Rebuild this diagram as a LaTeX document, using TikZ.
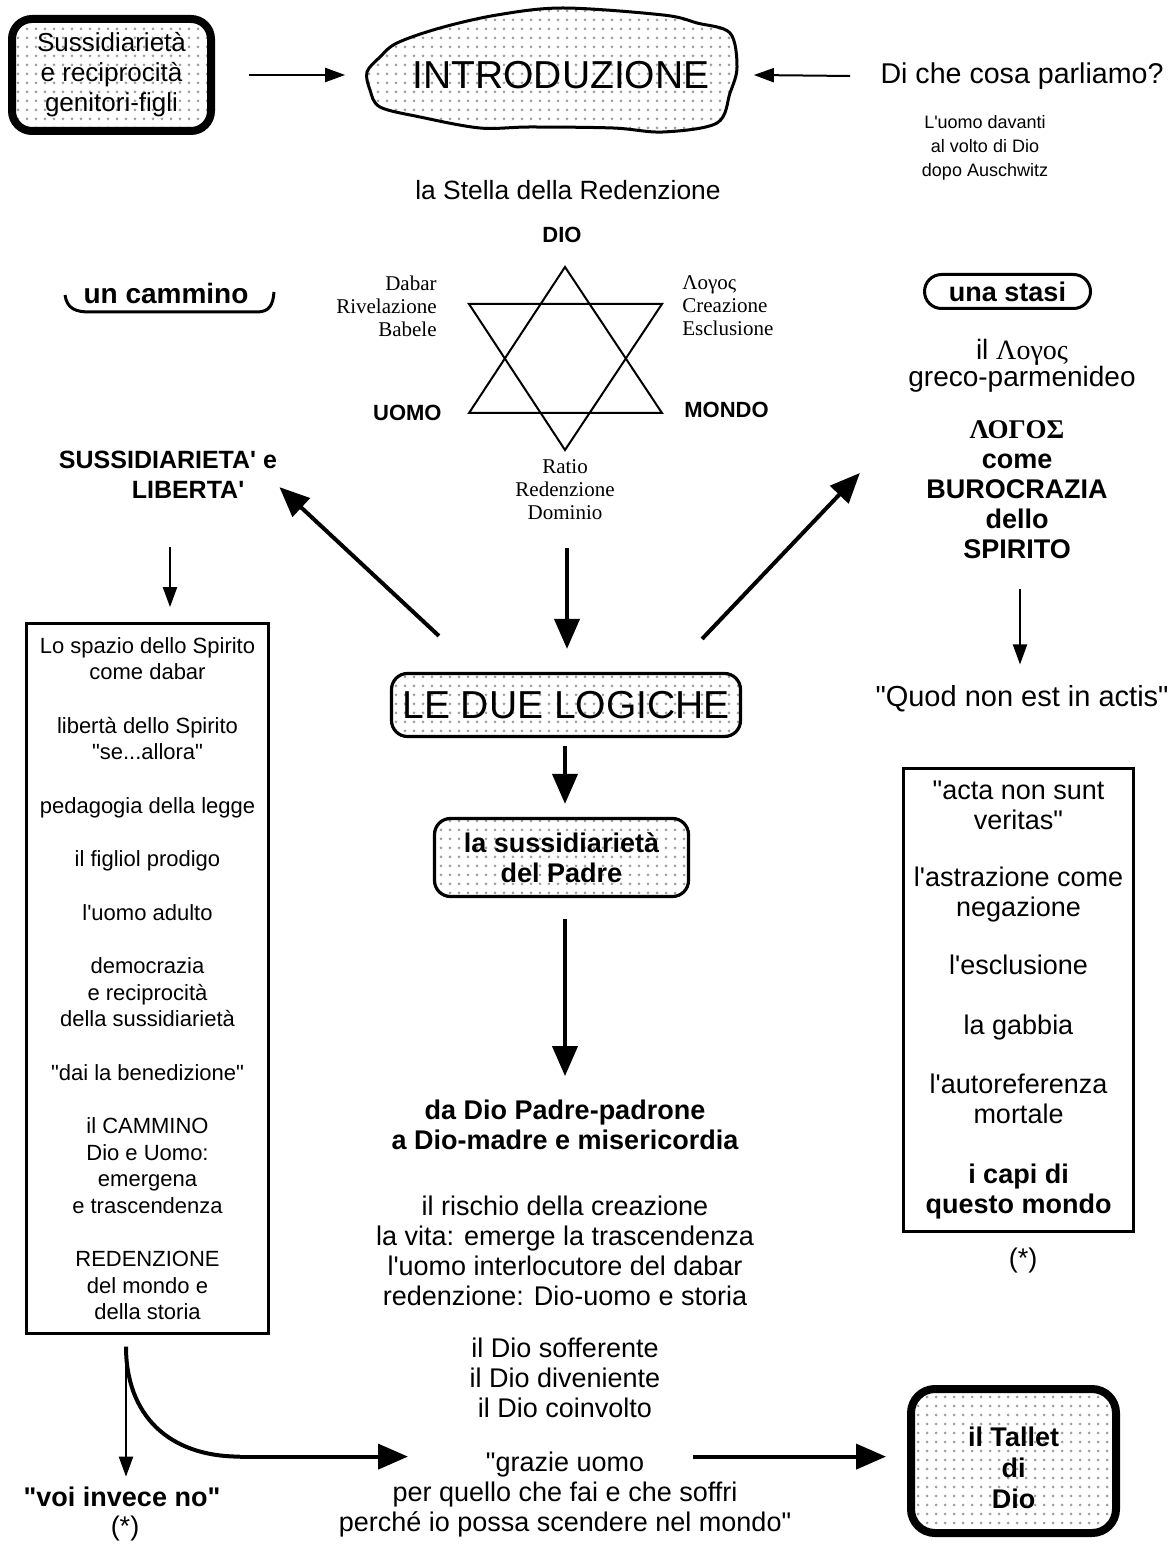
\documentclass[tikz,border=0pt]{standalone}
\usepackage{fontspec}
\setmainfont{Liberation Sans}[Ligatures=TeXOff]
\newfontfamily\serifgr{Liberation Serif}[Ligatures=TeXOff]
\usetikzlibrary{arrows.meta,calc,patterns.meta}
\newcommand{\fsz}[2]{\fontsize{#1}{#2}\selectfont}

\tikzset{
  dotfill/.style={pattern={Dots[distance=4.5pt,radius=0.75pt]},pattern color=black!38},
  heavybox/.style={draw,line width=4pt,rounded corners=10pt,dotfill,align=center,inner sep=0pt},
  roundbox/.style={draw,line width=1.6pt,rounded corners=8pt,dotfill,align=center,inner sep=0pt},
  listbox/.style={draw,line width=1.6pt,align=center,inner sep=0pt},
  lbl/.style={align=center,inner sep=0pt,font=\fsz{13.5}{15}},
  boldlbl/.style={align=center,inner sep=0pt,font=\fsz{13.5}{15}\bfseries},
  starlbl/.style={inner sep=0pt,font=\serifgr\fsz{10.5}{11.5}},
  starcap/.style={inner sep=0pt,font=\fsz{11}{13}\bfseries},
  thinarrow/.style={-{Triangle[length=10pt,width=7pt]},line width=1pt},
  bigarrow/.style={-{Triangle[length=15pt,width=12.5pt]},line width=2pt},
  heavyline/.style={line width=2pt},
}

\begin{document}
\begin{tikzpicture}[x=0.5pt,y=-0.5pt]
  \useasboundingbox (0,0) rectangle (1173,1550);

  % top row
  \node[heavybox,minimum width=99.5pt,minimum height=56pt,font=\fsz{13}{15}] (sussi) at (111.5,75)
    {Sussidiarietà\\e reciprocità\\genitori-figli};
  \draw[line width=1.5pt,dotfill] plot[smooth cycle,tension=0.55] coordinates {
    (367,72) (380,57) (397,43) (440,28) (497,15) (563,8) (663,15) (697,23)
    (730,33) (737,67) (730,93) (717,123) (663,132) (613,128) (530,127)
    (480,128) (420,117) (380,107) (370,90)};
  \node[inner sep=0pt,font=\fsz{19.5}{22}] (intro) at (561,75) {INTRODUZIONE};
  \node[inner sep=0pt,font=\fsz{14.3}{16}] (topic) at (1022,76) {Di che cosa parliamo?};
  \node[lbl,font=\fsz{9}{12}] (auschwitz) at (985,148) {L'uomo davanti\\al volto di Dio\\dopo Auschwitz};
  \draw[thinarrow] ($(sussi.east)+(34,0)$) -- ($(intro.west)+(-67,0)$);
  \draw[thinarrow] ($(topic.west)+(-30,0)$) -- ($(intro.east)+(44,0)$);

  % la stella
  \node[lbl,font=\fsz{13.2}{15}] (stella) at (568,190) {la Stella della Redenzione};
  \coordinate (starN) at (565,267);
  \coordinate (starS) at (565,450);
  \coordinate (starNW) at (469,304);
  \coordinate (starNE) at (662,304);
  \coordinate (starSW) at (469,413);
  \coordinate (starSE) at (662,413);
  \draw[line width=1pt] (starN) -- (starSE) -- (starSW) -- cycle;
  \draw[line width=1pt] (starS) -- (starNW) -- (starNE) -- cycle;
  \node[starcap] (dio) at (562,235) {DIO};
  \node[starcap,anchor=east] (uomo) at (442,413) {UOMO};
  \node[starcap,anchor=west] (mondo) at (684,410) {MONDO};
  \node[starlbl,anchor=east,align=right] (dabar) at (437,306) {Dabar\\Rivelazione\\Babele};
  \node[starlbl,anchor=west,align=left] (logos) at (682,306) {Λογος\\Creazione\\Esclusione};
  \node[starlbl,align=center] (ratio) at (565,490) {Ratio\\Redenzione\\Dominio};

  % le due vie
  \node[inner sep=0pt,font=\fsz{14}{16}\bfseries] (cammino) at (166,293) {un cammino};
  \draw[line width=1.5pt] (65,295) .. controls (67,309) and (76,312) .. (90,312)
    -- (257,312) .. controls (270,312) and (273,304) .. (274,292);
  \node[draw,line width=1.5pt,rounded corners=8.5pt,minimum width=83pt,minimum height=17pt,
    inner sep=0pt,font=\fsz{13.5}{15}\bfseries] (stasi) at (1007.5,291.5) {una stasi};
  \node[lbl,font=\fsz{14}{13.5}] (parmen) at (1022,366) {il {\serifgr Λογος}\\greco-parmenideo};
  \node[boldlbl] (burocrazia) at (1017,490) {{\serifgr ΛΟΓΟΣ}\\come\\BUROCRAZIA\\dello\\SPIRITO};
  \node[lbl,font=\fsz{14.5}{16}] (quod) at (1022,699) {"Quod non est in actis"};
  \node[boldlbl,font=\fsz{12.5}{15}\bfseries] (libert) at (168,475) {SUSSIDIARIETA' e\\\hspace*{20pt}LIBERTA'};

  % centro
  \node[roundbox,minimum width=174.5pt,minimum height=31.5pt,font=\fsz{19.5}{22}] (logiche) at (566,705)
    {LE DUE LOGICHE};
  \node[roundbox,minimum width=127pt,minimum height=39pt,font=\fsz{13.5}{15}\bfseries] (padre) at (561.5,857.5)
    {la sussidiarietà\\del Padre};
  \node[boldlbl] (misericordia) at (565,1125) {da Dio Padre-padrone\\a Dio-madre e misericordia};
  \node[lbl] (rischio) at (565,1250.5) {il rischio della creazione\\la vita: emerge la trascendenza\\
    l'uomo interlocutore del dabar\\redenzione: Dio-uomo e storia};
  \node[lbl] (soffre) at (565,1378) {il Dio sofferente\\il Dio diveniente\\il Dio coinvolto};
  \node[lbl] (grazie) at (565,1495) {"grazie uomo\\per quello che fai e che soffri\\
    perché io possa scendere nel mondo"};

  \draw[bigarrow] ($(logiche.north west)+(49,-36)$) -- ($(libert.south east)+(2,-12)$);
  \draw[bigarrow] ($(ratio.south)+(2,28)$) -- ($(logiche.north)+(1,-23)$);
  \draw[bigarrow] ($(logiche.north east)+(-40,-33)$) -- ($(burocrazia.west)+(-66,-17)$);
  \draw[bigarrow] ($(logiche.south)+(-1,8)$) -- ($(padre.north)+(3.5,-13)$);
  \draw[bigarrow] ($(padre.south)+(3.5,21)$) -- ++(0,157);
  \draw[thinarrow] ($(libert.south)+(2,48)$) -- ++(0,60);
  \draw[thinarrow] ($(burocrazia.south)+(3,30)$) -- ++(0,75);

  % i due elenchi
  \node[listbox,minimum width=121pt,minimum height=355pt,font=\fsz{11}{13.25}] (leftbox) at (147.5,978.5)
    {Lo spazio dello Spirito\\come dabar\\[13.5pt]
     libertà dello Spirito\\"se...allora"\\[13.5pt]
     pedagogia della legge\\[13.5pt]
     il figliol prodigo\\[13.5pt]
     l'uomo adulto\\[13.5pt]
     democrazia\\e reciprocità\\della sussidiarietà\\[13.5pt]
     "dai la benedizione"\\[13.5pt]
     il CAMMINO\\Dio e Uomo:\\emergena\\e trascendenza\\[13.5pt]
     REDENZIONE\\del mondo e\\della storia};
  \node[listbox,minimum width=115pt,minimum height=231.5pt,font=\fsz{13.5}{15}] (rightbox) at (1018.5,1000)
    {"acta non sunt\\veritas"\\[13.5pt]
     l'astrazione come\\negazione\\[14pt]
     l'esclusione\\[15pt]
     la gabbia\\[14.5pt]
     l'autoreferenza\\mortale\\[15pt]
     \textbf{i capi di}\\\textbf{questo mondo}};
  \node[lbl] (nota1) at (1023,1260) {(*)};

  % in fondo
  \node[boldlbl] (voi) at (122,1497) {"voi invece no"};
  \node[lbl] (nota2) at (125,1528) {(*)};
  \node[heavybox,minimum width=102.5pt,minimum height=72pt,rounded corners=12pt] (tallet) at (1013.5,1461) {};
  \node[boldlbl,font=\fsz{13.5}{15.5}\bfseries] (talletlbl) at ($(tallet.center)+(0,7)$) {il Tallet\\di\\Dio};
  \coordinate (split) at ($(leftbox.south)+(-21.5,11.5)$);
  \coordinate (bend) at ($(split)+(114,110)$);
  \draw[thinarrow,shorten >=5pt] (split) -- (split |- voi.north);
  \draw[heavyline] (split) .. controls +(0,68) and +(-72,0) .. (bend);
  \draw[bigarrow] (bend) -- ++(168,0);
  \draw[bigarrow,shorten >=10.5pt] ($(bend)+(453,0)$) -- (bend -| tallet.west);
\end{tikzpicture}
\end{document}
